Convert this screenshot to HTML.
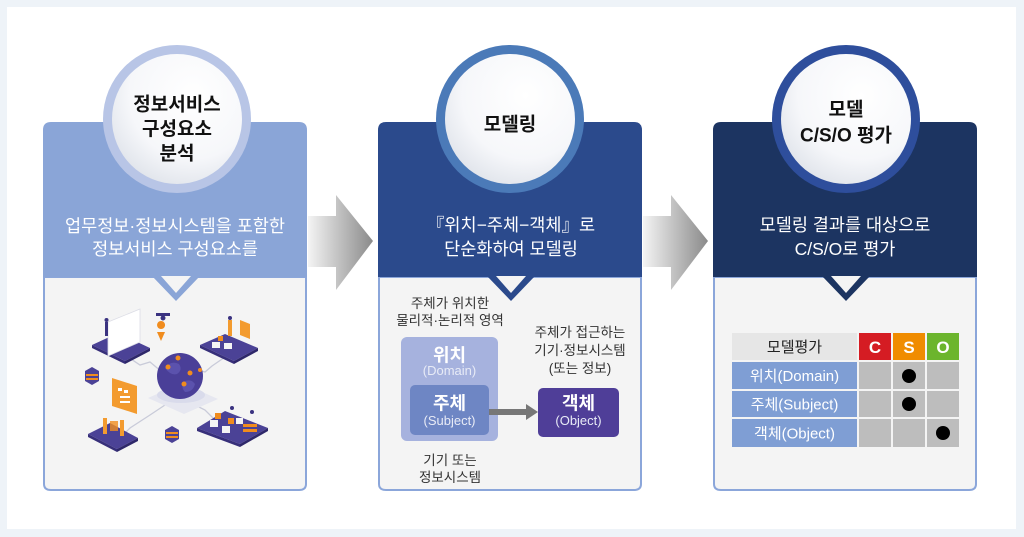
<!DOCTYPE html>
<html><head><meta charset="utf-8">
<style>
html,body{margin:0;padding:0;background:#eef3f8;}
body{width:1024px;height:537px;overflow:hidden;}
svg{display:block;}
text{font-family:"Liberation Sans","Noto Sans CJK KR",sans-serif;}
</style></head>
<body>
<svg width="1024" height="537" viewBox="0 0 1024 537" xmlns="http://www.w3.org/2000/svg">
<defs>
<radialGradient id="cg" cx="62%" cy="32%" r="75%">
<stop offset="0" stop-color="#ffffff"/>
<stop offset="0.65" stop-color="#f6f7fa"/>
<stop offset="1" stop-color="#dfe3ea"/>
</radialGradient>
<linearGradient id="ag" x1="0" y1="0" x2="1" y2="0">
<stop offset="0" stop-color="#f4f4f4"/>
<stop offset="0.45" stop-color="#c4c4c4"/>
<stop offset="1" stop-color="#8a8a8a"/>
</linearGradient>
</defs>
<rect x="0" y="0" width="1024" height="537" fill="#eef3f8"/>
<rect x="7" y="7" width="1009" height="522" fill="#ffffff"/>

<!-- Arrows -->
<g fill="url(#ag)">
<polygon points="308,216 336,216 336,195 373,241 336,290 336,267 308,267"/>
</g>
<g fill="url(#ag)">
<polygon points="643,216 671,216 671,195 708,241 671,290 671,267 643,267"/>
</g>

<!-- Card 1 -->
<path d="M44,277 V484 Q44,490 51,490 H299 Q306,490 306,484 V277 Z" fill="#f4f4f4" stroke="#8ba6da" stroke-width="2"/>
<path d="M43,277 V130 Q43,122 51,122 H299 Q307,122 307,130 V277 Z" fill="#8aa5d7"/>
<polygon points="152,276 200,276 176,301" fill="#8aa5d7"/>
<polygon points="161,276 191,276 176,293" fill="#f4f4f4"/>
<circle cx="177" cy="119" r="74" fill="#b8c5e6"/>
<circle cx="177" cy="119" r="65" fill="url(#cg)"/>
<text x="177" y="110.5" font-size="19" font-weight="700" fill="#111" text-anchor="middle">정보서비스</text>
<text x="177" y="135" font-size="19" font-weight="700" fill="#111" text-anchor="middle">구성요소</text>
<text x="177" y="159.5" font-size="19" font-weight="700" fill="#111" text-anchor="middle">분석</text>
<text x="175" y="232" font-size="17.5" fill="#ffffff" text-anchor="middle">업무정보·정보시스템을 포함한</text>
<text x="175" y="255" font-size="17.5" fill="#ffffff" text-anchor="middle">정보서비스 구성요소를</text>

<!-- Illustration -->
<g>
<g stroke="#c9cbd9" stroke-width="1.3" fill="none">
<polyline points="125,355 140,365 150,362 162,372"/>
<polyline points="228,355 212,366 205,372 198,370"/>
<polyline points="118,440 130,428 150,415 165,405"/>
<polyline points="230,428 215,420 205,410 195,405"/>
</g>
<polygon points="148,398 182,383 218,399 184,414" fill="#e6e7f0"/>
<ellipse cx="181" cy="395" rx="24" ry="8" fill="#d9dbeb"/>
<circle cx="180" cy="376" r="23" fill="#4a3f98"/>
<path d="M165,368 q6,-8 14,-4 q4,6 -2,10 q-6,2 -12,-6z" fill="#5b52ad"/>
<path d="M183,382 q8,-4 12,2 q-2,8 -10,8 q-4,-4 -2,-10z" fill="#5b52ad"/>
<g fill="#f08c1e">
<circle cx="178" cy="358" r="2.5"/><circle cx="168" cy="367" r="2.5"/><circle cx="190" cy="373" r="2.5"/><circle cx="184" cy="384" r="2.5"/><circle cx="200" cy="370" r="2"/>
</g>
<!-- top-left platform -->
<polygon points="92,345 118,333 150,348 125,361" fill="#4b4296"/>
<polygon points="92,345 125,361 125,364 92,348" fill="#372f7a"/>
<polygon points="125,361 150,348 150,351 125,364" fill="#2e276a"/>
<polygon points="108,322 140,309 140,342 108,356" fill="#ffffff" stroke="#dcdde6" stroke-width="0.8"/>
<rect x="105" y="322" width="3" height="14" fill="#3a3280"/>
<circle cx="106.5" cy="320" r="2" fill="#3a3280"/>
<!-- drone & pin -->
<rect x="156" y="313" width="14" height="3" fill="#3a3280"/>
<circle cx="163" cy="318" r="2.5" fill="#3a3280"/>
<path d="M161,329 a4,4 0 1 1 0.1,0 z" fill="#f08c1e"/>
<polygon points="157,332 165,332 161,341" fill="#f08c1e"/>
<!-- top-right platform -->
<polygon points="200,345 225,334 258,348 234,361" fill="#4b4296"/>
<polygon points="200,345 234,361 234,364 200,348" fill="#372f7a"/>
<polygon points="234,361 258,348 258,351 234,364" fill="#2e276a"/>
<polygon points="240,320 250,324 250,339 240,335" fill="#f39b2f"/>
<rect x="228" y="320" width="4" height="16" fill="#f39b2f"/>
<circle cx="230" cy="318" r="2" fill="#3a3280"/>
<rect x="212" y="342" width="8" height="6" fill="#f4f4f4"/>
<rect x="224" y="343" width="8" height="6" fill="#f4f4f4"/>
<rect x="218" y="336" width="5" height="5" fill="#f08c1e"/>
<!-- bottom-left platform -->
<polygon points="88,434 110,423 138,438 117,449" fill="#4b4296"/>
<polygon points="88,434 117,449 117,452 88,437" fill="#372f7a"/>
<polygon points="117,449 138,438 138,441 117,452" fill="#2e276a"/>
<polygon points="112,378 137,386 137,414 112,406" fill="#f39b2f"/>
<g fill="#ffffff"><rect x="118" y="388" width="4" height="3"/><rect x="124" y="390" width="4" height="3"/><rect x="120" y="396" width="10" height="2"/><rect x="120" y="401" width="10" height="2"/></g>
<rect x="103" y="418" width="4" height="16" fill="#f39b2f"/>
<rect x="120" y="420" width="4" height="16" fill="#f39b2f"/>
<rect x="110" y="421" width="8" height="10" fill="#f08c1e" opacity="0.8"/>
<!-- bottom-right platform -->
<polygon points="197,428 225,411 268,428 240,444" fill="#4b4296"/>
<polygon points="197,428 240,444 240,447 197,431" fill="#372f7a"/>
<polygon points="240,444 268,428 268,431 240,447" fill="#2e276a"/>
<g fill="#f4f4f4"><rect x="210" y="420" width="8" height="7"/><rect x="222" y="426" width="8" height="7"/><rect x="236" y="418" width="7" height="6"/></g>
<g fill="#f08c1e"><rect x="215" y="413" width="6" height="6"/><rect x="228" y="418" width="6" height="6"/><rect x="243" y="424" width="14" height="3"/><rect x="243" y="429" width="14" height="3"/></g>
<circle cx="232" cy="408" r="2" fill="#3a3280"/><circle cx="252" cy="412" r="2" fill="#3a3280"/>
<!-- cubes -->
<polygon points="85,371 92,367 99,371 99,381 92,385 85,381" fill="#4b4296"/>
<rect x="86" y="374" width="12" height="2" fill="#f08c1e"/><rect x="86" y="378" width="12" height="2" fill="#f08c1e"/>
<polygon points="165,430 172,426 179,430 179,439 172,443 165,439" fill="#4b4296"/>
<rect x="166" y="432" width="12" height="2" fill="#f08c1e"/><rect x="166" y="436" width="12" height="2" fill="#f08c1e"/>
</g>

<!-- Card 2 -->
<path d="M379,277 V484 Q379,490 386,490 H634 Q641,490 641,484 V277 Z" fill="#f4f4f4" stroke="#8ba6da" stroke-width="2"/>
<path d="M378,277 V130 Q378,122 386,122 H634 Q642,122 642,130 V277 Z" fill="#2b4a8c"/>
<polygon points="487,276 535,276 511,301" fill="#2b4a8c"/>
<polygon points="496,276 526,276 511,293" fill="#f4f4f4"/>
<circle cx="510" cy="119" r="74" fill="#4b7ab8"/>
<circle cx="510" cy="119" r="65" fill="url(#cg)"/>
<text x="510" y="130.5" font-size="19" font-weight="700" fill="#111" text-anchor="middle">모델링</text>
<text x="511" y="231" font-size="17.5" fill="#ffffff" text-anchor="middle">『위치−주체−객체』로</text>
<text x="511" y="255" font-size="17.5" fill="#ffffff" text-anchor="middle">단순화하여 모델링</text>

<text x="450" y="308" font-size="13.5" fill="#333" text-anchor="middle">주체가 위치한</text>
<text x="450" y="325" font-size="13.5" fill="#333" text-anchor="middle">물리적·논리적 영역</text>
<text x="580" y="337" font-size="13.5" fill="#333" text-anchor="middle">주체가 접근하는</text>
<text x="580" y="355" font-size="13.5" fill="#333" text-anchor="middle">기기·정보시스템</text>
<text x="580" y="373" font-size="13.5" fill="#333" text-anchor="middle">(또는 정보)</text>
<rect x="401" y="337" width="97" height="104" rx="6" fill="#a6b2de"/>
<text x="449.5" y="361.5" font-size="18" font-weight="700" fill="#ffffff" text-anchor="middle">위치</text>
<text x="449.5" y="375" font-size="13" fill="#e8ebf6" text-anchor="middle">(Domain)</text>
<rect x="410" y="385" width="79" height="50" rx="5" fill="#6e86c4"/>
<text x="449.5" y="409.5" font-size="18" font-weight="700" fill="#ffffff" text-anchor="middle">주체</text>
<text x="449.5" y="425" font-size="13" fill="#e8ebf6" text-anchor="middle">(Subject)</text>
<line x1="489" y1="412" x2="528" y2="412" stroke="#777" stroke-width="6"/>
<polygon points="526,404 538,412 526,420" fill="#777"/>
<rect x="538" y="388" width="81" height="49" rx="5" fill="#4f3e98"/>
<text x="578.5" y="409.5" font-size="18" font-weight="700" fill="#ffffff" text-anchor="middle">객체</text>
<text x="578.5" y="425" font-size="13" fill="#e8ebf6" text-anchor="middle">(Object)</text>
<text x="450" y="465" font-size="13.5" fill="#333" text-anchor="middle">기기 또는</text>
<text x="450" y="482" font-size="13.5" fill="#333" text-anchor="middle">정보시스템</text>

<!-- Card 3 -->
<path d="M714,277 V484 Q714,490 721,490 H969 Q976,490 976,484 V277 Z" fill="#f4f4f4" stroke="#8ba6da" stroke-width="2"/>
<path d="M713,277 V130 Q713,122 721,122 H969 Q977,122 977,130 V277 Z" fill="#1c3461"/>
<polygon points="822,276 870,276 846,301" fill="#1c3461"/>
<polygon points="831,276 861,276 846,293" fill="#f4f4f4"/>
<circle cx="846" cy="119" r="74" fill="#2e4e9c"/>
<circle cx="846" cy="119" r="65" fill="url(#cg)"/>
<text x="846" y="115.5" font-size="19" font-weight="700" fill="#111" text-anchor="middle">모델</text>
<text x="846" y="141.5" font-size="19" font-weight="700" fill="#111" text-anchor="middle">C/S/O 평가</text>
<text x="845" y="231" font-size="17.5" fill="#ffffff" text-anchor="middle">모델링 결과를 대상으로</text>
<text x="845" y="255" font-size="17.5" fill="#ffffff" text-anchor="middle">C/S/O로 평가</text>

<!-- Table -->
<rect x="732" y="333" width="125" height="27" fill="#e6e6e6"/>
<text x="794.5" y="352" font-size="15" fill="#222" text-anchor="middle">모델평가</text>
<rect x="859" y="333" width="32" height="27" fill="#d51c23"/>
<rect x="893" y="333" width="32" height="27" fill="#f08c00"/>
<rect x="927" y="333" width="32" height="27" fill="#6cb52d"/>
<text x="875" y="353" font-size="17" font-weight="700" fill="#fff" text-anchor="middle">C</text>
<text x="909" y="353" font-size="17" font-weight="700" fill="#fff" text-anchor="middle">S</text>
<text x="943" y="353" font-size="17" font-weight="700" fill="#fff" text-anchor="middle">O</text>

<rect x="732" y="362" width="125" height="27" fill="#7f9ed4"/>
<rect x="732" y="391" width="125" height="26" fill="#7f9ed4"/>
<rect x="732" y="419" width="125" height="28" fill="#7f9ed4"/>
<text x="794.5" y="381" font-size="15" fill="#fff" text-anchor="middle">위치(Domain)</text>
<text x="794.5" y="409.5" font-size="15" fill="#fff" text-anchor="middle">주체(Subject)</text>
<text x="794.5" y="438.5" font-size="15" fill="#fff" text-anchor="middle">객체(Object)</text>
<g fill="#bdbdbd">
<rect x="859" y="362" width="32" height="27"/><rect x="893" y="362" width="32" height="27"/><rect x="927" y="362" width="32" height="27"/>
<rect x="859" y="391" width="32" height="26"/><rect x="893" y="391" width="32" height="26"/><rect x="927" y="391" width="32" height="26"/>
<rect x="859" y="419" width="32" height="28"/><rect x="893" y="419" width="32" height="28"/><rect x="927" y="419" width="32" height="28"/>
</g>
<circle cx="909" cy="376" r="7" fill="#000"/>
<circle cx="909" cy="404" r="7" fill="#000"/>
<circle cx="943" cy="433" r="7" fill="#000"/>
</svg>
</body></html>
